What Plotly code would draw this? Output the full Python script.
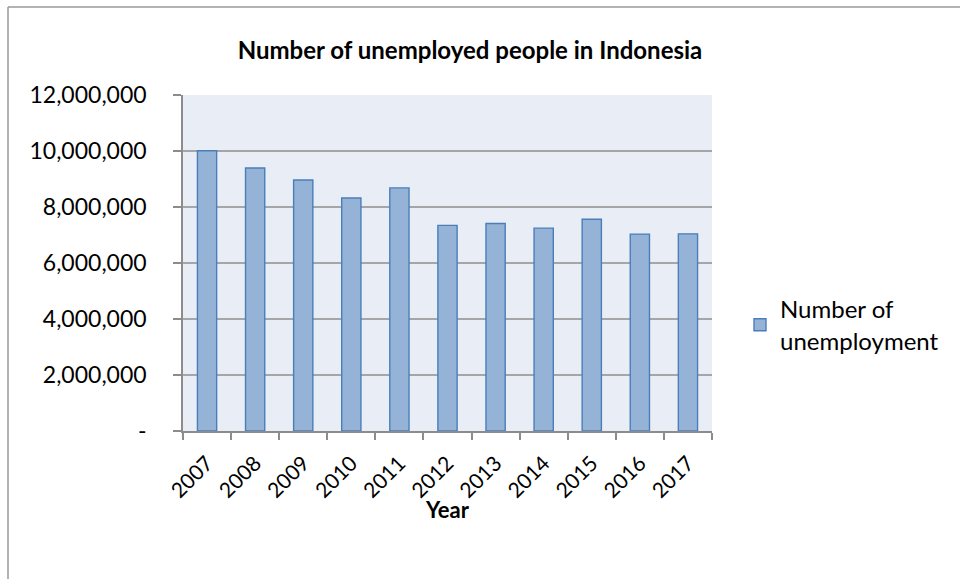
import plotly.graph_objects as go

# Unemployed people in Indonesia, by year
years = ["2007", "2008", "2009", "2010", "2011", "2012",
         "2013", "2014", "2015", "2016", "2017"]
unemployed = [10011142, 9394515, 8962617, 8319779, 8681392, 7344866,
              7410931, 7244905, 7560822, 7031775, 7040323]

y_tickvals = [0, 2000000, 4000000, 6000000, 8000000, 10000000, 12000000]
y_ticktext = ["-", "2,000,000", "4,000,000", "6,000,000", "8,000,000",
              "10,000,000", "12,000,000"]

FONT = "Lato, Calibri, sans-serif"

# plot-area geometry in pixels (for the outer frame lines and axis title)
W, H = 960, 579
L, R, T, B = 183, 248, 95, 148
pw, ph = W - L - R, H - T - B


def px_x(x):
    return (x - L) / pw


def px_y(y):
    return (H - B - y) / ph


fig = go.Figure()
fig.add_trace(go.Bar(
    x=years,
    y=unemployed,
    name="Number of<br>unemployment",
    marker=dict(color="#95B3D7", line=dict(color="#4A7EBB", width=1.4)),
    showlegend=True,
))

fig.update_layout(
    width=W, height=H,
    margin=dict(l=L, r=R, t=T, b=B),
    paper_bgcolor="white",
    plot_bgcolor="#E9EEF6",
    bargap=0.6,
    font=dict(family=FONT, color="black", size=23),
    title=dict(text="<b>Number of unemployed people in Indonesia</b>",
               x=470 / W, xanchor="center", y=1 - 51 / H, yanchor="middle",
               font=dict(size=24, family=FONT)),
    legend=dict(x=px_x(740), xanchor="left", y=px_y(287), yanchor="top",
                font=dict(size=24, family=FONT), bgcolor="rgba(0,0,0,0)",
                tracegroupgap=0),
    xaxis=dict(
        type="category",
        showline=True, linecolor="#8C8C8C", linewidth=1.5,
        ticks="outside", tickson="boundaries", ticklen=7,
        tickcolor="#8C8C8C", tickwidth=1.5,
        tickangle=-45, ticklabelstandoff=10,
        tickfont=dict(size=21, family=FONT),
        showgrid=False,
    ),
    yaxis=dict(
        range=[0, 12000000],
        tickvals=y_tickvals, ticktext=y_ticktext,
        showline=True, linecolor="#8C8C8C", linewidth=1.5,
        ticks="outside", ticklen=8, tickcolor="#8C8C8C", tickwidth=1.5,
        ticklabelstandoff=22,
        showgrid=True, gridcolor="#A6A6A6", gridwidth=1.5,
        zeroline=False,
        tickfont=dict(size=23, family=FONT),
    ),
    annotations=[
        dict(text="<b>Year</b>", xref="paper", yref="paper",
             x=0.5, y=px_y(509), xanchor="center", yanchor="middle",
             showarrow=False, font=dict(size=22, family=FONT)),
    ],
    shapes=[
        dict(type="line", xref="paper", yref="paper",
             x0=px_x(8), x1=px_x(W + 5), y0=px_y(7), y1=px_y(7),
             line=dict(color="#9A9A9A", width=1.5)),
        dict(type="line", xref="paper", yref="paper",
             x0=px_x(8), x1=px_x(8), y0=px_y(7), y1=px_y(H + 5),
             line=dict(color="#9A9A9A", width=1.5)),
    ],
)

fig.write_html("out.html")
